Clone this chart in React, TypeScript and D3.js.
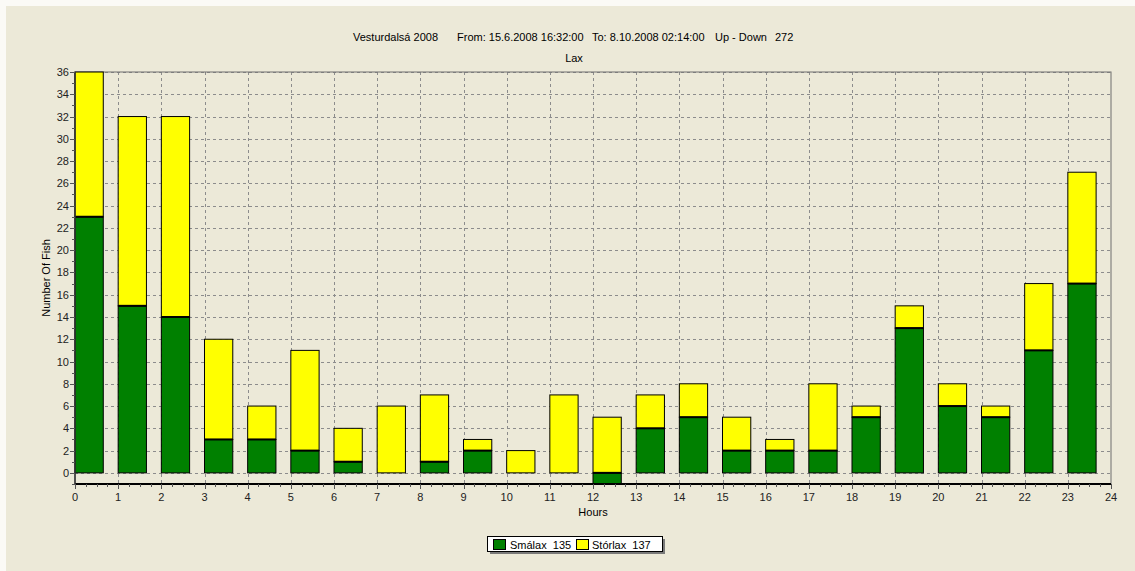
import * as d3 from "d3";

const hours = d3.range(0, 24);
const smalax = [23, 15, 14, 3, 3, 2, 1, 0, 1, 2, 0, 0, -1, 4, 5, 2, 2, 2, 5, 13, 6, 5, 11, 17];
const storlax = [13, 17, 18, 9, 3, 9, 3, 6, 6, 1, 2, 7, 5, 3, 3, 3, 1, 6, 1, 2, 2, 1, 6, 10];
const yTicks = d3.range(0, 37, 2);
const xTicks = d3.range(0, 25, 1);
const titleParts = ["Vesturdalsá 2008", "From: 15.6.2008 16:32:00", "To: 8.10.2008 02:14:00", "Up - Down", "272"];
const titleX = [353, 457, 592, 715, 775];

const width = 1135;
const height = 571;
const marginLeft = 75;
const marginRight = 24;
const marginTop = 72;
const marginBottom = 87;
const font = "'Liberation Sans', Arial, sans-serif";

export default function App() {
  const x = d3.scaleLinear([0, 24], [marginLeft, width - marginRight]);
  const y = d3.scaleLinear([-1, 36], [height - marginBottom, marginTop]);
  const barW = x(0.655) - x(0);

  // stacked: green from 0 to its value (negative goes down), yellow starts at max(0, green)
  const bars = hours.map((h, i) => {
    const g = smalax[i];
    const base = Math.max(0, g);
    return { h, g, y0: base, y1: base + storlax[i] };
  });

  const minor = d3.range(0, 24.01, 0.25);
  const yMinor = d3.range(-1, 36.01, 1);

  return (
    <div style={{ position: "absolute", left: 0, top: 0 }}>
      <svg width={width} height={height} style={{ display: "block" }}>
        <rect x={0} y={0} width={width} height={height} fill="#fbfaf6" />
        <rect x={6} y={6} width={width - 6} height={height - 6} fill="#ECE9D8" />
        <g fontFamily={font} fontSize={11} fill="#000">
          {titleParts.map((t, i) => (
            <text key={t} x={titleX[i]} y={41}>{t}</text>
          ))}
          <text x={574} y={62} textAnchor="middle">Lax</text>
        </g>

        {/* grid */}
        <g stroke="#8c8c8c" strokeDasharray="3,3" strokeWidth={1}>
          {yTicks.map(t => (
            <line key={"gy" + t} x1={x(0)} x2={x(24)} y1={Math.round(y(t)) + 0.5} y2={Math.round(y(t)) + 0.5} />
          ))}
          {xTicks.slice(1, 24).map(t => (
            <line key={"gx" + t} x1={Math.round(x(t)) + 0.5} x2={Math.round(x(t)) + 0.5} y1={y(36)} y2={y(-1)} />
          ))}
        </g>

        {/* frame */}
        <rect x={x(0)} y={y(36)} width={x(24) - x(0)} height={y(-1) - y(36)} fill="none" stroke="#6e6e6e" strokeWidth={1} />

        {/* bars */}
        {bars.map(b => (
          <g key={b.h}>
            {b.g !== 0 && (
              <rect x={x(b.h)} y={y(Math.max(0, b.g))} width={barW} height={Math.abs(y(0) - y(b.g))}
                fill="#008000" stroke="#000" strokeWidth={1} />
            )}
            <rect x={x(b.h)} y={y(b.y1)} width={barW} height={y(b.y0) - y(b.y1)}
              fill="#FFFF00" stroke="#000" strokeWidth={1} />
            {b.g !== 0 && (
              <line x1={x(b.h)} x2={x(b.h) + barW} y1={y(Math.max(0, b.g))} y2={y(Math.max(0, b.g))} stroke="#000" strokeWidth={2} />
            )}
          </g>
        ))}

        {/* axes */}
        <line x1={x(0)} x2={x(24)} y1={y(-1)} y2={y(-1)} stroke="#000" strokeWidth={2} />
        <line x1={x(0)} x2={x(0)} y1={y(36)} y2={y(-1)} stroke="#333" strokeWidth={1.5} />
        <g stroke="#555">
          {minor.map(t => (
            <line key={"mx" + t} x1={Math.round(x(t)) + 0.5} x2={Math.round(x(t)) + 0.5} y1={y(-1)} y2={y(-1) + (t % 1 === 0 ? 5 : 3)} />
          ))}
          {yMinor.map(t => (
            <line key={"my" + t} x1={x(0) - (t % 2 === 0 ? 5 : 3)} x2={x(0)} y1={Math.round(y(t)) + 0.5} y2={Math.round(y(t)) + 0.5} />
          ))}
        </g>
        <g fontFamily={font} fontSize={11} fill="#222">
          {yTicks.map(t => (
            <text key={"ty" + t} x={x(0) - 6} y={y(t) + 4} textAnchor="end">{t}</text>
          ))}
          {xTicks.map(t => (
            <text key={"tx" + t} x={x(t)} y={y(-1) + 17} textAnchor="middle">{t}</text>
          ))}
        </g>
        <text x={x(12)} y={516} textAnchor="middle" fontFamily={font} fontSize={11} fill="#000">Hours</text>
        <text transform={`translate(50,${(y(36) + y(-1)) / 2}) rotate(-90)`} textAnchor="middle" fontFamily={font} fontSize={11} fill="#000">Number Of Fish</text>

        {/* legend */}
        <g fontFamily={font} fontSize={11} fill="#000">
          <rect x={490} y={539} width={175} height={15} fill="#7a7a7a" />
          <rect x={487.5} y={536.5} width={175} height={15} fill="#fff" stroke="#000" />
          <rect x={493.5} y={539.5} width={12} height={10} fill="#008000" stroke="#000" />
          <text x={510} y={548.5} style={{ whiteSpace: "pre" }}>Smálax  135</text>
          <rect x={576.5} y={539.5} width={12} height={10} fill="#FFFF00" stroke="#000" />
          <text x={592} y={548.5} style={{ whiteSpace: "pre" }}>Stórlax  137</text>
        </g>
      </svg>
    </div>
  );
}
